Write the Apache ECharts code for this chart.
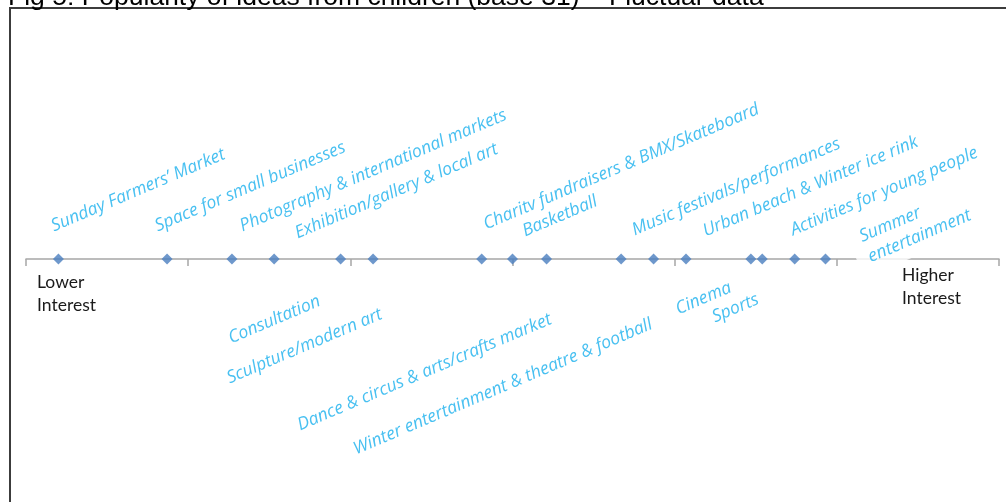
<!DOCTYPE html>
<html>
<head>
<meta charset="utf-8">
<script src="https://cdn.jsdelivr.net/npm/echarts@6/dist/echarts.min.js"></script>
<style>
html,body{margin:0;padding:0;background:#fff;}
#chart{width:1006px;height:502px;}
</style>
</head>
<body>
<div id="chart"></div>
<script>
// ---- data ----
const titleText = 'Fig 5: Popularity of ideas from children (base 31) \u2013 Fluctuar data';
const ideas = [
  'Sunday Farmers\u2019 Market',
  'Space for small businesses',
  'Photography & international markets',
  'Exhibition/gallery & local art',
  'Consultation',
  'Sculpture/modern art',
  'Charitv fundraisers & BMX/Skateboard',
  'Basketball',
  'Dance & circus & arts/crafts market',
  'Music festivals/performances',
  'Winter entertainment & theatre & football',
  'Urban beach & Winter ice rink',
  'Cinema',
  'Sports',
  'Activities for young people',
  'Summer\nentertainment'
];
const interest = [0.20, 0.87, 1.27, 1.53, 1.94, 2.14, 2.81, 3.00, 3.21, 3.67, 3.87, 4.07, 4.47, 4.54, 4.74, 4.93];
const axisMin = 0, axisMax = 6, axisStep = 1;
const endLabels = ['Lower\nInterest', 'Higher\nInterest'];

// ---- layout (label placement relative to each point, screen px) ----
const labelShift = [
  [-2, -22], [-7, -22], [13, -22], [26, -15],
  [-107, 90], [-141, 130],
  [7, -24], [15, -17],
  [-244, 177],
  [16, -18],
  [-295, 201],
  [22, -17],
  [-70, 61], [-45, 69],
  [1, -18], [39, 19]
];
const labelBoxed = [15];
const labelAngle = 23;

const chart = echarts.init(document.getElementById('chart'), null, {renderer: 'canvas'});
const option = {
  animation: false,
  backgroundColor: '#ffffff',
  grid: {left: 26, right: 7, top: 159, bottom: 143, containLabel: false},
  xAxis: {
    type: 'value', min: axisMin, max: axisMax, interval: axisStep,
    axisLine: {show: true, onZero: true, lineStyle: {color: '#a6a6a6', width: 1.5}},
    axisTick: {show: true, inside: false, length: 7, lineStyle: {color: '#a6a6a6', width: 1.5}},
    axisLabel: {show: false},
    splitLine: {show: false}
  },
  yAxis: {
    type: 'value', min: -1, max: 1, show: false,
    axisLine: {show: false}, splitLine: {show: false}
  },
  graphic: [
    {type: 'rect', shape: {x: 10, y: 8, width: 1200, height: 700}, style: {fill: 'none', stroke: '#3c3c3c', lineWidth: 2}, z: 100, silent: true},
    {type: 'text', x: 8, y: 11, style: {text: titleText, font: '26.5px "Liberation Sans", Arial, sans-serif', fill: '#000', verticalAlign: 'bottom'}, z: 101},
    {type: 'text', x: 37, y: 271, style: {text: endLabels[0], font: '17.5px Lato, "Open Sans", sans-serif', fill: '#1a1a1a', lineHeight: 23}},
    {type: 'text', x: 902, y: 264, style: {text: endLabels[1], font: '17.5px Lato, "Open Sans", sans-serif', fill: '#1a1a1a', lineHeight: 23}}
  ],
  series: [{
    type: 'scatter',
    clip: false,
    symbol: 'diamond',
    symbolSize: 11,
    itemStyle: {color: '#4a7ebf'},
    data: interest.map((v, i) => {
      const item = {value: [v, 0], name: ideas[i]};
      if (labelBoxed.indexOf(i) >= 0) {
        item.label = {backgroundColor: '#ffffff', padding: [2, 12, 6, 12]};
      }
      return item;
    }),
    label: {
      show: true,
      position: 'inside',
      formatter: p => p.name,
      color: '#1ab0ee',
      fontFamily: '"Open Sans", sans-serif',
      fontStyle: 'italic',
      fontSize: 17.5,
      lineHeight: 22,
      align: 'left',
      verticalAlign: 'bottom'
    },
    labelLayout: function (params) {
      const s = labelShift[params.dataIndex];
      const cx = params.rect.x + params.rect.width / 2;
      const cy = params.rect.y + params.rect.height / 2;
      return {x: cx + s[0], y: cy + s[1], rotate: labelAngle, align: 'left', verticalAlign: 'bottom'};
    },
    z: 5
  }]
};
chart.setOption(option);
</script>
</body>
</html>
